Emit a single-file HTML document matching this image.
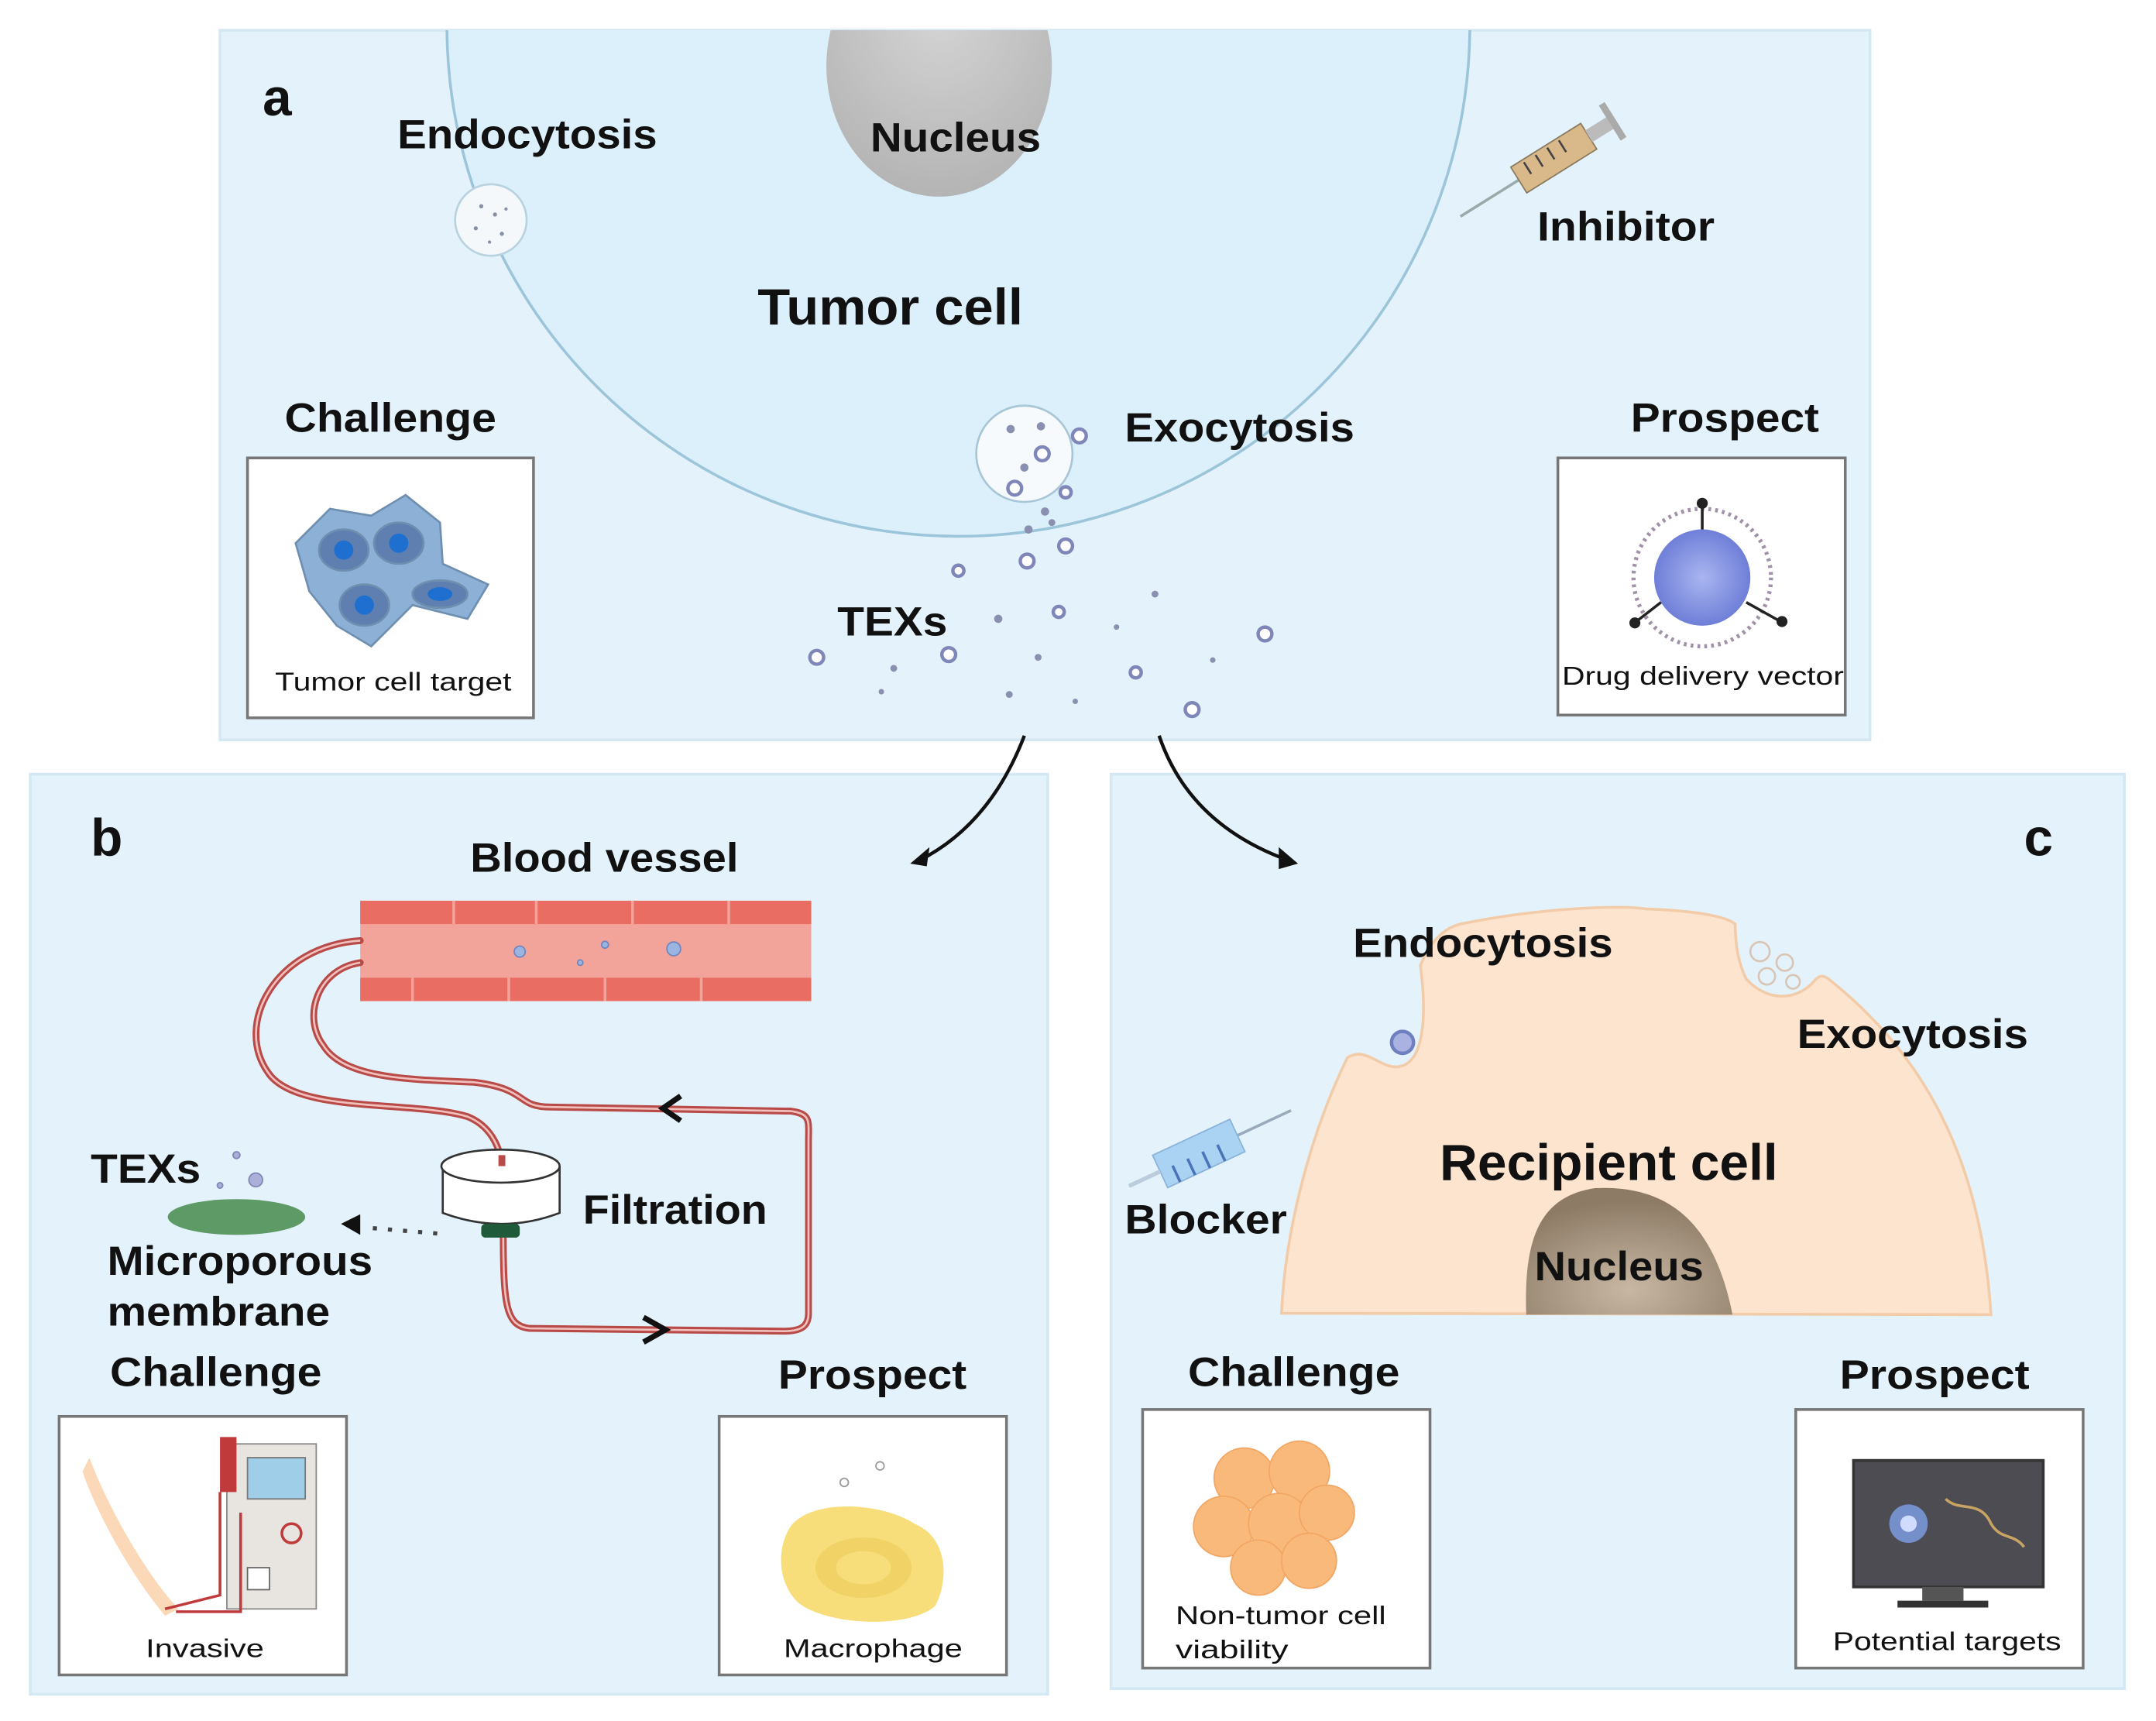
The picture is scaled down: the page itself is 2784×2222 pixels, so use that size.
<!DOCTYPE html>
<html><head><meta charset="utf-8"><style>
html,body{margin:0;padding:0;background:#fff}
svg{display:block}
text{font-family:"Liberation Sans",Arial,sans-serif;font-weight:bold;fill:#111}
</style></head><body>
<svg width="2784" height="2222" viewBox="0 0 1568 1251.5" preserveAspectRatio="none" xmlns="http://www.w3.org/2000/svg">
<defs>
<clipPath id="ca"><rect x="160" y="22" width="1200" height="516"/></clipPath>
<radialGradient id="nuc" cx="0.5" cy="0.3" r="0.7"><stop offset="0" stop-color="#d4d4d4"/><stop offset="1" stop-color="#b4b4b4"/></radialGradient>
<radialGradient id="dv" cx="0.5" cy="0.5" r="0.5"><stop offset="0" stop-color="#a9b5f0"/><stop offset="1" stop-color="#6f7fd8"/></radialGradient>
<radialGradient id="nuc2" cx="0.5" cy="0.8" r="0.7"><stop offset="0" stop-color="#c8b8a3"/><stop offset="1" stop-color="#8d7b66"/></radialGradient>
</defs>
<rect width="1568" height="1252" fill="#fff"/>
<rect x="160" y="22" width="1200" height="516" fill="#e4f3fb" stroke="#d3e8f3" stroke-width="2"/>
<rect x="22" y="563" width="740" height="669" fill="#e4f3fb" stroke="#d3e8f3" stroke-width="2"/>
<rect x="808" y="563" width="737" height="665" fill="#e4f3fb" stroke="#d3e8f3" stroke-width="2"/>

<g clip-path="url(#ca)">
<circle cx="697" cy="18" r="372" fill="#dcf0fb" stroke="#9cc5da" stroke-width="2"/>
<ellipse cx="683" cy="48" rx="82" ry="95" fill="url(#nuc)"/>
</g>
<circle cx="357" cy="160" r="26" fill="#f4f8fb" stroke="#b8d2e0" stroke-width="1.5"/>
<g fill="#8890a8"><circle cx="350" cy="150" r="1.5"/><circle cx="360" cy="156" r="1.5"/><circle cx="346" cy="166" r="1.5"/><circle cx="365" cy="170" r="1.5"/><circle cx="356" cy="176" r="1.2"/><circle cx="368" cy="152" r="1.2"/></g>
<circle cx="745" cy="330" r="35" fill="#f7fafc" stroke="#a8c6d6" stroke-width="1.5"/>
<g fill="#fff" stroke="#7f86b8" stroke-width="2.5">
<circle cx="758" cy="330" r="5"/><circle cx="785" cy="317" r="5"/><circle cx="738" cy="355" r="5"/><circle cx="775" cy="358" r="4"/><circle cx="747" cy="408" r="5"/><circle cx="775" cy="397" r="5"/><circle cx="697" cy="415" r="4"/><circle cx="690" cy="476" r="5"/><circle cx="594" cy="478" r="5"/><circle cx="770" cy="445" r="4"/><circle cx="920" cy="461" r="5"/><circle cx="867" cy="516" r="5"/><circle cx="826" cy="489" r="4"/></g>
<g fill="#8a90b0"><circle cx="735" cy="312" r="3"/><circle cx="757" cy="310" r="3"/><circle cx="745" cy="340" r="3"/><circle cx="760" cy="372" r="3"/><circle cx="748" cy="385" r="3"/><circle cx="765" cy="380" r="2.5"/><circle cx="726" cy="450" r="3"/><circle cx="650" cy="486" r="2.5"/><circle cx="641" cy="503" r="2"/><circle cx="755" cy="478" r="2.5"/><circle cx="734" cy="505" r="2.5"/><circle cx="782" cy="510" r="2"/><circle cx="840" cy="432" r="2.5"/><circle cx="812" cy="456" r="2"/><circle cx="882" cy="480" r="2"/></g>
<g transform="rotate(-32 1130 115)">
<line x1="1050" y1="115" x2="1100" y2="115" stroke="#9aa" stroke-width="2"/>
<rect x="1100" y="104" width="60" height="22" fill="#d9b98a" stroke="#8a7a60"/>
<g stroke="#444" stroke-width="1.5"><line x1="1110" y1="106" x2="1110" y2="116"/><line x1="1120" y1="106" x2="1120" y2="116"/><line x1="1130" y1="106" x2="1130" y2="116"/><line x1="1140" y1="106" x2="1140" y2="116"/></g>
<rect x="1160" y="110" width="18" height="10" fill="#bbb"/><rect x="1178" y="100" width="5" height="30" fill="#aaa"/>
</g>
<text x="191" y="84" font-size="38">a</text>
<text x="289" y="108" font-size="30" textLength="189" lengthAdjust="spacingAndGlyphs">Endocytosis</text>
<text x="633" y="110" font-size="30" textLength="124" lengthAdjust="spacingAndGlyphs">Nucleus</text>
<text x="1118" y="175" font-size="30" textLength="129" lengthAdjust="spacingAndGlyphs">Inhibitor</text>
<text x="551" y="236" font-size="37" textLength="193" lengthAdjust="spacingAndGlyphs">Tumor cell</text>
<text x="207" y="314" font-size="30" textLength="154" lengthAdjust="spacingAndGlyphs">Challenge</text>
<text x="818" y="321" font-size="30" textLength="167" lengthAdjust="spacingAndGlyphs">Exocytosis</text>
<text x="1186" y="314" font-size="30" textLength="137" lengthAdjust="spacingAndGlyphs">Prospect</text>
<text x="609" y="462" font-size="30" textLength="80" lengthAdjust="spacingAndGlyphs">TEXs</text>
<rect x="180" y="333" width="208" height="189" fill="#fff" stroke="#777" stroke-width="2"/>
<g stroke="#6f8fb0" stroke-width="1.5">
<path d="M215,395 L240,370 L270,375 L295,360 L320,380 L322,410 L355,425 L340,450 L300,440 L270,470 L245,455 L225,430 Z" fill="#8db0d6"/>
<ellipse cx="250" cy="400" rx="18" ry="15" fill="#5f7fb0"/><ellipse cx="290" cy="395" rx="18" ry="15" fill="#5f7fb0"/><ellipse cx="265" cy="440" rx="18" ry="15" fill="#5f7fb0"/><ellipse cx="320" cy="432" rx="20" ry="10" fill="#5f7fb0"/>
</g>
<g fill="#1f6fd0"><circle cx="250" cy="400" r="7"/><circle cx="290" cy="395" r="7"/><circle cx="265" cy="440" r="7"/><ellipse cx="320" cy="432" rx="9" ry="5"/></g>
<text x="200" y="502" font-size="19" style="font-weight:normal" textLength="172" lengthAdjust="spacingAndGlyphs">Tumor cell target</text>
<rect x="1133" y="333" width="209" height="187" fill="#fff" stroke="#777" stroke-width="2"/>
<circle cx="1238" cy="420" r="50" fill="none" stroke="#a090a8" stroke-width="3" stroke-dasharray="2 3"/>
<circle cx="1238" cy="420" r="35" fill="url(#dv)"/>
<g stroke="#222" stroke-width="2"><line x1="1238" y1="385" x2="1238" y2="368"/><line x1="1208" y1="438" x2="1190" y2="452"/><line x1="1270" y1="438" x2="1295" y2="452"/></g>
<g fill="#222"><circle cx="1238" cy="366" r="4"/><circle cx="1189" cy="453" r="4"/><circle cx="1296" cy="452" r="4"/></g>
<text x="1136" y="498" font-size="19" style="font-weight:normal" textLength="205" lengthAdjust="spacingAndGlyphs">Drug delivery vector</text>

<path d="M745,535 Q720,600 668,626" fill="none" stroke="#111" stroke-width="2.5"/>
<path d="M662,628 L676,616 L674,630 Z" fill="#111"/>
<path d="M843,535 Q865,600 938,626" fill="none" stroke="#111" stroke-width="2.5"/>
<path d="M944,628 L930,616 L930,632 Z" fill="#111"/>

<text x="66" y="622" font-size="38">b</text>
<text x="342" y="634" font-size="30" textLength="195" lengthAdjust="spacingAndGlyphs">Blood vessel</text>
<rect x="262" y="655" width="328" height="73" fill="#f3a49a"/>
<g fill="#e96d62"><rect x="262" y="655" width="328" height="17"/><rect x="262" y="711" width="328" height="17"/></g>
<g stroke="#f3a49a" stroke-width="2"><line x1="330" y1="655" x2="330" y2="672"/><line x1="390" y1="655" x2="390" y2="672"/><line x1="460" y1="655" x2="460" y2="672"/><line x1="530" y1="655" x2="530" y2="672"/><line x1="300" y1="711" x2="300" y2="728"/><line x1="370" y1="711" x2="370" y2="728"/><line x1="440" y1="711" x2="440" y2="728"/><line x1="510" y1="711" x2="510" y2="728"/></g>
<g fill="#9bb5e0" stroke="#6f86c0"><circle cx="378" cy="692" r="4"/><circle cx="490" cy="690" r="5"/><circle cx="440" cy="687" r="2.5"/><circle cx="422" cy="700" r="2"/></g>
<g fill="none" stroke="#b84a48" stroke-width="5" stroke-linecap="round">
<path d="M262,684 C200,688 170,745 195,780 C215,810 300,800 340,812 C360,820 365,840 365,850"/>
<path d="M262,700 C230,705 220,740 235,760 C250,785 300,785 345,787 C385,792 375,805 400,805 L575,808 C590,810 588,815 588,830 L588,955 C588,965 582,968 570,968 L385,966 C368,964 366,950 366,895"/>
</g>
<g fill="none" stroke="#f2c0bc" stroke-width="1.5">
<path d="M262,684 C200,688 170,745 195,780 C215,810 300,800 340,812 C360,820 365,840 365,850"/>
<path d="M262,700 C230,705 220,740 235,760 C250,785 300,785 345,787 C385,792 375,805 400,805 L575,808 C590,810 588,815 588,830 L588,955 C588,965 582,968 570,968 L385,966 C368,964 366,950 366,895"/>
</g>
<path d="M495,797 L482,806 L495,815" fill="none" stroke="#111" stroke-width="4"/>
<path d="M468,958 L484,967 L468,976" fill="none" stroke="#111" stroke-width="4"/>
<path d="M322,848 L322,882 Q365,898 407,882 L407,848" fill="#fff" stroke="#333" stroke-width="1.5"/>
<ellipse cx="364" cy="848" rx="43" ry="12" fill="#fff" stroke="#333" stroke-width="1.5"/>
<rect x="350" y="890" width="28" height="10" rx="3" fill="#1f5a3a"/>
<path d="M365,848 L365,840" stroke="#b84a48" stroke-width="5"/>
<path d="M318,897 L270,893" stroke="#444" stroke-width="3" stroke-dasharray="3 8"/>
<path d="M248,890 L262,883 L262,898 Z" fill="#111"/>
<ellipse cx="172" cy="885" rx="50" ry="13" fill="#5e9a66"/>
<g fill="#aab0d8" stroke="#7f86b8"><circle cx="186" cy="858" r="5"/><circle cx="172" cy="840" r="2.5"/><circle cx="160" cy="862" r="2"/></g>
<text x="66" y="860" font-size="30" textLength="80" lengthAdjust="spacingAndGlyphs">TEXs</text>
<text x="424" y="890" font-size="30" textLength="134" lengthAdjust="spacingAndGlyphs">Filtration</text>
<text x="78" y="927" font-size="30" textLength="193" lengthAdjust="spacingAndGlyphs">Microporous</text>
<text x="78" y="964" font-size="30" textLength="162" lengthAdjust="spacingAndGlyphs">membrane</text>
<text x="80" y="1008" font-size="30" textLength="154" lengthAdjust="spacingAndGlyphs">Challenge</text>
<text x="566" y="1010" font-size="30" textLength="137" lengthAdjust="spacingAndGlyphs">Prospect</text>
<rect x="43" y="1030" width="209" height="188" fill="#fff" stroke="#777" stroke-width="2"/>
<path d="M65,1060 C80,1100 110,1150 130,1170 L120,1175 C95,1145 70,1100 60,1070 Z" fill="#fbd9b8"/>
<rect x="165" y="1050" width="65" height="120" fill="#e8e4df" stroke="#888"/>
<rect x="180" y="1060" width="42" height="30" fill="#9fcfe8" stroke="#777"/>
<rect x="160" y="1045" width="12" height="40" fill="#c0393b"/>
<path d="M128,1172 L175,1172 L175,1100 M120,1170 L160,1160 L160,1085" fill="none" stroke="#c0393b" stroke-width="2"/>
<circle cx="212" cy="1115" r="7" fill="none" stroke="#c0393b" stroke-width="2"/>
<rect x="180" y="1140" width="16" height="16" fill="#fff" stroke="#666"/>
<text x="106" y="1205" font-size="19" style="font-weight:normal" textLength="86" lengthAdjust="spacingAndGlyphs">Invasive</text>
<rect x="523" y="1030" width="209" height="188" fill="#fff" stroke="#777" stroke-width="2"/>
<path d="M575,1110 C590,1090 640,1092 665,1108 C690,1118 690,1150 680,1168 C660,1185 600,1182 580,1165 C565,1150 565,1125 575,1110 Z" fill="#f7de7a"/>
<ellipse cx="628" cy="1140" rx="35" ry="22" fill="#edc95a" opacity="0.6"/>
<ellipse cx="628" cy="1140" rx="20" ry="12" fill="#f7de7a"/>
<g fill="#fff" stroke="#999"><circle cx="614" cy="1078" r="3"/><circle cx="640" cy="1066" r="3"/></g>
<text x="570" y="1205" font-size="19" style="font-weight:normal" textLength="130" lengthAdjust="spacingAndGlyphs">Macrophage</text>

<text x="1472" y="622" font-size="38">c</text>
<path d="M932,955 C935,890 955,820 980,769 C995,760 1005,780 1020,775 C1035,770 1038,740 1033,702 C1040,685 1050,675 1062,672 C1120,660 1180,658 1197,661 C1230,662 1255,666 1262,672 C1262,685 1264,700 1270,712 C1285,728 1305,728 1318,715 C1322,710 1325,708 1330,712 C1390,760 1440,830 1448,956 Z" fill="#fde4cf" stroke="#f2cba8" stroke-width="2"/>
<path d="M1110,956 C1108,900 1120,870 1160,864 C1205,862 1245,880 1260,956 Z" fill="url(#nuc2)"/>
<g fill="none" stroke="#d9c5b5" stroke-width="1.5"><circle cx="1280" cy="692" r="7"/><circle cx="1298" cy="700" r="6"/><circle cx="1285" cy="710" r="6"/><circle cx="1304" cy="714" r="5"/></g>
<circle cx="1020" cy="758" r="8" fill="#aab2e2" stroke="#6f7fc0" stroke-width="2.5"/>
<g transform="rotate(-25 880 835)">
<line x1="900" y1="835" x2="945" y2="835" stroke="#9ab" stroke-width="2"/>
<rect x="840" y="822" width="62" height="26" fill="#a9d2f3" stroke="#8bb3d9"/>
<g stroke="#4b74b8" stroke-width="2"><line x1="850" y1="835" x2="850" y2="848"/><line x1="862" y1="835" x2="862" y2="848"/><line x1="874" y1="835" x2="874" y2="848"/><line x1="886" y1="835" x2="886" y2="848"/></g>
<line x1="815" y1="835" x2="840" y2="835" stroke="#bcd" stroke-width="3"/>
</g>
<text x="984" y="696" font-size="30" textLength="189" lengthAdjust="spacingAndGlyphs">Endocytosis</text>
<text x="1307" y="762" font-size="30" textLength="168" lengthAdjust="spacingAndGlyphs">Exocytosis</text>
<text x="1047" y="858" font-size="37" textLength="246" lengthAdjust="spacingAndGlyphs">Recipient cell</text>
<text x="818" y="897" font-size="30" textLength="118" lengthAdjust="spacingAndGlyphs">Blocker</text>
<text x="1116" y="931" font-size="30" textLength="123" lengthAdjust="spacingAndGlyphs">Nucleus</text>
<text x="864" y="1008" font-size="30" textLength="154" lengthAdjust="spacingAndGlyphs">Challenge</text>
<text x="1338" y="1010" font-size="30" textLength="138" lengthAdjust="spacingAndGlyphs">Prospect</text>
<rect x="831" y="1025" width="209" height="188" fill="#fff" stroke="#777" stroke-width="2"/>
<g fill="#f9b97a" stroke="#f2a663" stroke-width="1">
<circle cx="905" cy="1075" r="22"/><circle cx="945" cy="1070" r="22"/><circle cx="890" cy="1110" r="22"/><circle cx="930" cy="1108" r="22"/><circle cx="965" cy="1100" r="20"/><circle cx="915" cy="1140" r="20"/><circle cx="952" cy="1135" r="20"/></g>
<text x="855" y="1181" font-size="19" style="font-weight:normal" textLength="153" lengthAdjust="spacingAndGlyphs">Non-tumor cell</text>
<text x="855" y="1206" font-size="19" style="font-weight:normal" textLength="82" lengthAdjust="spacingAndGlyphs">viability</text>
<rect x="1306" y="1025" width="209" height="188" fill="#fff" stroke="#777" stroke-width="2"/>
<rect x="1348" y="1062" width="138" height="92" fill="#4c4c52" stroke="#333" stroke-width="2"/>
<rect x="1398" y="1154" width="30" height="10" fill="#555"/><rect x="1380" y="1164" width="66" height="5" fill="#333"/>
<circle cx="1388" cy="1108" r="14" fill="#7fa0e8" opacity="0.8"/><circle cx="1388" cy="1108" r="6" fill="#cfdcff"/>
<path d="M1415,1090 C1425,1100 1440,1090 1448,1108 C1455,1120 1465,1115 1472,1125" fill="none" stroke="#c8a464" stroke-width="2"/>
<text x="1333" y="1200" font-size="19" style="font-weight:normal" textLength="166" lengthAdjust="spacingAndGlyphs">Potential targets</text>
</svg>
</body></html>
